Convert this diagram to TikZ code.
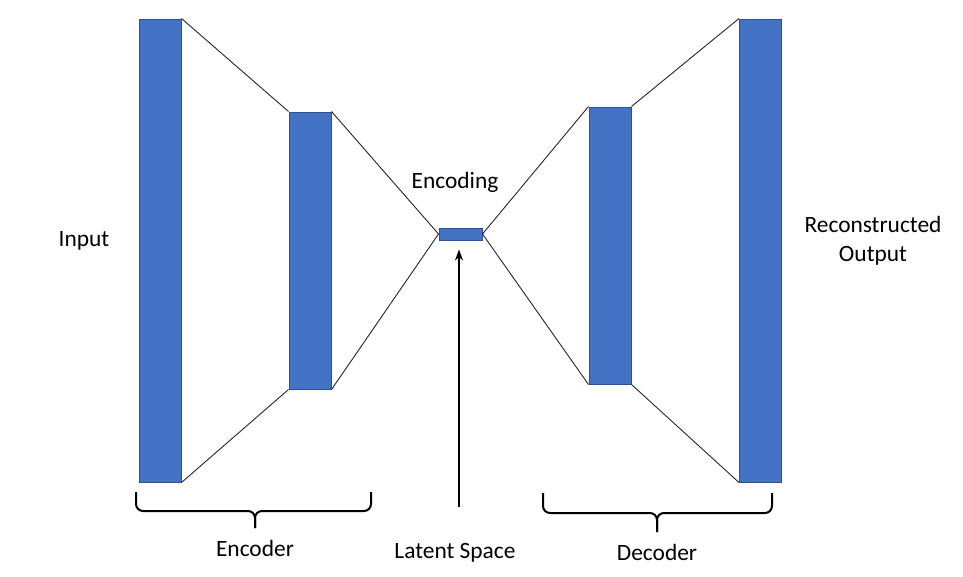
\documentclass[tikz,border=0pt]{standalone}
\usepackage{fontspec}
\setmainfont{Carlito}
\usetikzlibrary{arrows.meta}
\definecolor{layerfill}{HTML}{4472C4}
\definecolor{layerdraw}{HTML}{2F528F}
\begin{document}
\begin{tikzpicture}[x=1pt,y=-1pt,
  layer/.style={draw=layerdraw,fill=layerfill,line width=1pt,inner sep=0pt,minimum width=42pt},
  link/.style={draw=black!85,line width=0.9pt},
  lbl/.style={font=\fontsize{23.4}{29}\selectfont,inner sep=0pt,align=center},
  bracepath/.style={draw=black,line width=2pt,rounded corners=7pt},
  arrowline/.style={draw=black,line width=2pt,-{Stealth[length=11pt,width=8pt]}}]
\useasboundingbox (0,0) rectangle (963,576);
% layers
\node[layer,minimum height=463pt] (r1) at (160,250.5) {};
\node[layer,minimum height=277pt] (r2) at (310,250.5) {};
\node[layer,minimum width=43pt,minimum height=12pt] (lat) at (460.5,234) {};
\node[layer,minimum height=277pt] (r3) at (610,245.5) {};
\node[layer,minimum height=463pt] (r4) at (760.5,250.5) {};
% connections
\draw[link] (r1.north east) -- (r2.north west);
\draw[link] (r1.south east) -- (r2.south west);
\draw[link] (r2.north east) -- (lat.west);
\draw[link] (r2.south east) -- (lat.west);
\draw[link] (lat.east) -- (r3.north west);
\draw[link] (lat.east) -- (r3.south west);
\draw[link] (r3.north east) -- (r4.north west);
\draw[link] (r3.south east) -- (r4.south west);
% labels
\node[lbl] (inp) at (84,241) {Input};
\node[lbl] (out) at (873,241) {Reconstructed\\Output};
\node[lbl] (enc) at (455,182) {Encoding};
\node[lbl] (encoder) at (255,548) {Encoder};
\node[lbl] (latent) at (455,553) {Latent Space};
\node[lbl] (decoder) at (657,552) {Decoder};
% arrow
\coordinate (foot) at (459,507);
\draw[arrowline,shorten >=9pt] (foot) -- (foot |- lat.south);
% braces
\draw[bracepath] (136,492) -- (136,511) -- (255,511) -- (255,528);
\draw[bracepath] (371,492) -- (371,511) -- (255,511) -- (255,528);
\draw[bracepath] (543,493) -- (543,513) -- (657,513) -- (657,532);
\draw[bracepath] (772,493) -- (772,513) -- (657,513) -- (657,532);
\end{tikzpicture}
\end{document}
